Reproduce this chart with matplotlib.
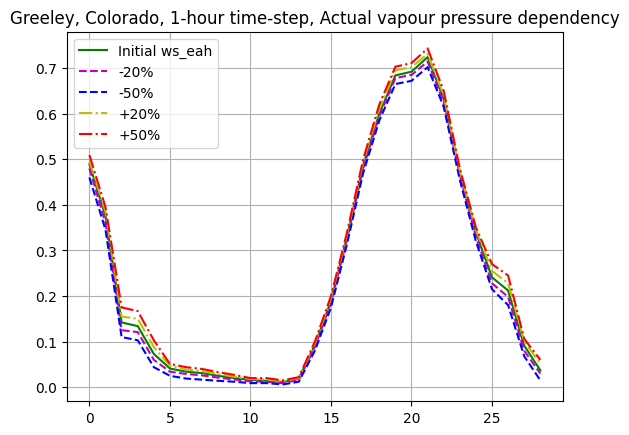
import matplotlib
matplotlib.use("Agg")
import matplotlib.pyplot as plt
import numpy as np

hours = list(range(29))

initial = [0.489, 0.375, 0.142, 0.134, 0.073, 0.041, 0.034, 0.031, 0.025, 0.020,
           0.016, 0.014, 0.011, 0.019, 0.092, 0.190, 0.330, 0.487, 0.600, 0.684,
           0.692, 0.724, 0.632, 0.470, 0.340, 0.241, 0.212, 0.091, 0.037]
minus20 = [0.480, 0.360, 0.125, 0.121, 0.060, 0.034, 0.029, 0.026, 0.021, 0.017,
           0.013, 0.012, 0.009, 0.016, 0.088, 0.185, 0.325, 0.480, 0.595, 0.678,
           0.685, 0.714, 0.625, 0.465, 0.330, 0.228, 0.198, 0.080, 0.030]
minus50 = [0.460, 0.345, 0.110, 0.103, 0.044, 0.025, 0.019, 0.0165, 0.014, 0.012,
           0.009, 0.009, 0.006, 0.012, 0.080, 0.175, 0.315, 0.470, 0.585, 0.665,
           0.672, 0.702, 0.615, 0.455, 0.320, 0.215, 0.180, 0.068, 0.015]
plus20 = [0.496, 0.385, 0.155, 0.150, 0.088, 0.047, 0.039, 0.035, 0.029, 0.023,
          0.018, 0.017, 0.013, 0.020, 0.096, 0.195, 0.335, 0.495, 0.610, 0.695,
          0.702, 0.731, 0.640, 0.475, 0.345, 0.255, 0.228, 0.100, 0.052]
plus50 = [0.509, 0.395, 0.175, 0.167, 0.103, 0.051, 0.044, 0.040, 0.033, 0.027,
          0.020, 0.020, 0.015, 0.022, 0.100, 0.200, 0.340, 0.500, 0.620, 0.703,
          0.711, 0.743, 0.650, 0.480, 0.350, 0.270, 0.245, 0.106, 0.060]

labels = ["Initial ws_eah", "-20%", "-50%", "+20%", "+50%"]

fig, ax = plt.subplots(figsize=(6.4, 4.8), dpi=100)
ax.plot(hours, initial, 'g-', label=labels[0])
ax.plot(hours, minus20, 'm--', label=labels[1])
ax.plot(hours, minus50, 'b--', label=labels[2])
ax.plot(hours, plus20, 'y-.', label=labels[3])
ax.plot(hours, plus50, 'r-.', label=labels[4])
ax.set_title("Greeley, Colorado, 1-hour time-step, Actual vapour pressure dependency")
ax.grid(True)
ax.legend(loc="upper left")
fig.savefig("out.png", dpi=100, bbox_inches="tight")
